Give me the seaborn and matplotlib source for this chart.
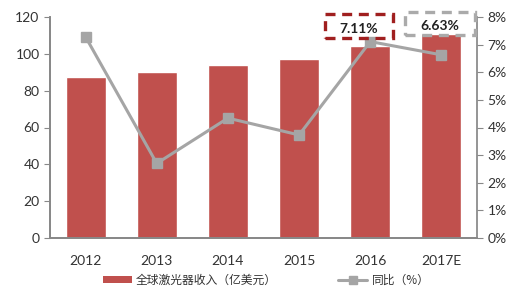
import matplotlib
matplotlib.use("Agg")
import matplotlib.pyplot as plt
import seaborn as sns
import pandas as pd
from matplotlib.patches import Patch, Rectangle
from matplotlib.lines import Line2D

years = ["2012", "2013", "2014", "2015", "2016", "2017E"]
revenue = [87.4, 90.1, 93.9, 97.2, 104.1, 111.0]
growth = [7.28, 2.70, 4.34, 3.73, 7.11, 6.63]
bar_label = "全球激光器收入（亿美元）"
line_label = "同比（%）"

sns.set_theme(style="white")
plt.rcParams["font.family"] = ["Lato", "Noto Sans CJK SC", "DejaVu Sans"]

df = pd.DataFrame({"year": years, "revenue": revenue, "growth": growth})

W, H = 513, 294
fig = plt.figure(figsize=(W / 100, H / 100), dpi=100)
ax = fig.add_axes([50/W, 1-238/H, 427/W, 221/H])
sns.barplot(data=df, x="year", y="revenue", color="#C0504D", saturation=1,
            width=0.56, ax=ax)
ax.set_ylim(0, 120)
ax.set_yticks(range(0, 121, 20))
ax.set_xlabel("")
ax.set_ylabel("")

ax2 = ax.twinx()
ax2.plot(range(len(years)), growth, color="#A5A5A5", lw=2.2, marker="s",
         markersize=7, markerfacecolor="#A5A5A5", markeredgecolor="#A5A5A5")
ax2.set_ylim(0, 8)
ax2.set_yticks(range(0, 9))
ax2.set_yticklabels([f"{i}%" for i in range(0, 9)])
ax.set_xlim(-0.5, len(years) - 0.5)

for a in (ax, ax2):
    a.spines["top"].set_visible(False)
    a.tick_params(labelsize=10, colors="#333333", length=4, width=0.8, direction="out")
ax.spines["right"].set_visible(False)
for s in ("left", "right", "bottom"):
    ax2.spines[s].set_color("#888888")
ax.spines["left"].set_color("#888888")
ax.spines["bottom"].set_color("#888888")
ax.tick_params(axis="y", left=True, color="#888888")
ax.tick_params(axis="x", bottom=False, pad=8)
ax2.tick_params(axis="y", right=True, color="#888888")

# annotation boxes (dashed outlines, no fill)
def px_rect(x0, y0, x1, y1, color):
    r = Rectangle((x0 / W, 1 - y1 / H), (x1 - x0) / W, (y1 - y0) / H,
                  transform=fig.transFigure, fill=False, edgecolor=color,
                  linestyle=(0, (3, 2)), linewidth=2.4, zorder=6)
    fig.add_artist(r)

px_rect(325, 14, 393, 38, "#A01F1F")
px_rect(405, 12, 475, 35, "#AAAAAA")
fig.text(359 / W, 1 - 29 / H, f"{growth[4]:.2f}%", ha="center", va="center", fontsize=10,
         fontweight="bold", color="#222222", zorder=7)
fig.text(440 / W, 1 - 26 / H, f"{growth[5]:.2f}%", ha="center", va="center", fontsize=10,
         fontweight="bold", color="#222222", zorder=7)

handles = [Patch(facecolor="#C0504D", edgecolor="none", label=bar_label),
           Line2D([0], [0], color="#A5A5A5", lw=2.2, marker="s", markersize=6, label=line_label)]
fig.legend(handles=handles, loc="center left", bbox_to_anchor=(103 / W, 1 - 280 / H),
           ncol=2, frameon=False, handlelength=2.45, handletextpad=0.35,
           columnspacing=5.2, borderpad=0, borderaxespad=0, handleheight=0.6,
           prop={"family": ["Noto Sans CJK SC", "DejaVu Sans"], "size": 8.5},
           labelcolor="#333333")

fig.savefig("out.png", dpi=100)
